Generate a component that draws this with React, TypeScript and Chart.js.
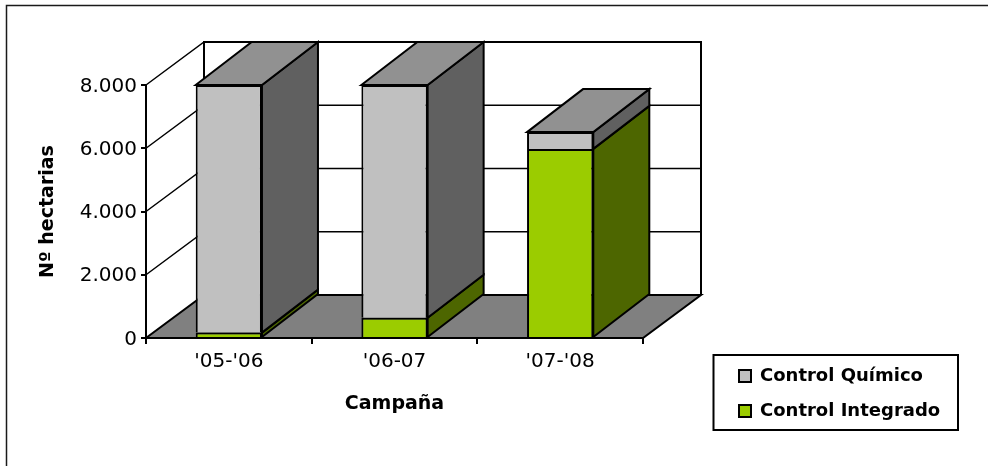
import React, { useEffect, useRef } from "react";
import { Chart, registerables } from "chart.js";

Chart.register(...registerables);

const campaigns = ["'05-'06", "'06-07", "'07-'08"];
const controlIntegrado = [170, 640, 5980];
const controlQuimico = [7830, 7360, 530];
const yTickLabels: Record<number, string> = { 0: "0", 2000: "2.000", 4000: "4.000", 6000: "6.000", 8000: "8.000" };
const yTickValues = [0, 2000, 4000, 6000, 8000];

const INK = "#000000";
const FONT = "'DejaVu Sans', sans-serif";
const WALL_DX = 58;
const BAR_DX = 56;
const DEPTH_DY = 43;
const OUTLINE = 2;

const faces = [
  { side: "#4d6600", top: "#7a9f00" },
  { side: "#606060", top: "#919191" },
];

function poly(ctx: CanvasRenderingContext2D, pts: number[][], fill: string | null, lw = OUTLINE) {
  ctx.beginPath();
  pts.forEach(([x, y], i) => (i ? ctx.lineTo(x, y) : ctx.moveTo(x, y)));
  ctx.closePath();
  if (fill) {
    ctx.fillStyle = fill;
    ctx.fill();
  }
  ctx.lineWidth = lw;
  ctx.strokeStyle = INK;
  ctx.lineJoin = "miter";
  ctx.stroke();
}

const scene3d = {
  id: "scene3d",
  afterLayout(chart: any) {
    const legend = chart.legend;
    legend.left = 722;
    legend.top = 350;
    legend.right = 952;
    legend.bottom = 440;
    legend.width = 230;
    legend.height = 90;
  },
  beforeDraw(chart: any) {
    const { ctx, width, height, chartArea: a, scales } = chart;
    const y = scales.y;
    ctx.save();
    ctx.fillStyle = "#ffffff";
    ctx.fillRect(0, 0, width, height);
    // outer frame: runs past the right and bottom edges of the picture
    ctx.strokeStyle = "#1a1a1a";
    ctx.lineWidth = 1.5;
    ctx.strokeRect(6.5, 5.5, width + 20, height + 20);
    // legend frame
    ctx.strokeStyle = INK;
    ctx.lineWidth = OUTLINE;
    ctx.strokeRect(713.5, 355, 244.5, 75);

    const l = a.left;
    const r = a.right;
    const y0 = y.getPixelForValue(0);
    const yMax = y.getPixelForValue(8000);
    // floor
    poly(ctx, [[l, y0], [r, y0], [r + WALL_DX, y0 - DEPTH_DY], [l + WALL_DX, y0 - DEPTH_DY]], "#808080");
    // grid on the two walls
    ctx.lineWidth = 1.5;
    ctx.strokeStyle = INK;
    yTickValues.slice(1).forEach((v) => {
      const py = y.getPixelForValue(v);
      ctx.beginPath();
      ctx.moveTo(l, py);
      ctx.lineTo(l + WALL_DX, py - DEPTH_DY);
      ctx.lineTo(r + WALL_DX, py - DEPTH_DY);
      ctx.stroke();
    });
    // wall edges
    ctx.lineWidth = OUTLINE;
    ctx.beginPath();
    ctx.moveTo(l + WALL_DX, y0 - DEPTH_DY);
    ctx.lineTo(l + WALL_DX, yMax - DEPTH_DY);
    ctx.lineTo(r + WALL_DX, yMax - DEPTH_DY);
    ctx.lineTo(r + WALL_DX, y0 - DEPTH_DY);
    ctx.stroke();
    ctx.restore();
  },
  afterDatasetsDraw(chart: any) {
    const { ctx } = chart;
    ctx.save();
    const stacks = chart.data.datasets.length;
    campaigns.forEach((_, j) => {
      for (let d = 0; d < stacks; d++) {
        const bar = chart.getDatasetMeta(d).data[j];
        const right = bar.x + bar.width / 2;
        const left = bar.x - bar.width / 2;
        poly(
          ctx,
          [[right, bar.y], [right + BAR_DX, bar.y - DEPTH_DY], [right + BAR_DX, bar.base - DEPTH_DY], [right, bar.base]],
          faces[d].side
        );
        if (d === stacks - 1) {
          poly(
            ctx,
            [[left, bar.y], [left + BAR_DX, bar.y - DEPTH_DY], [right + BAR_DX, bar.y - DEPTH_DY], [right, bar.y]],
            faces[d].top
          );
        }
      }
    });
    ctx.restore();
  },
};

export default function App() {
  const ref = useRef<HTMLCanvasElement>(null);

  useEffect(() => {
    const chart = new Chart(ref.current!, {
      type: "bar",
      data: {
        labels: campaigns,
        datasets: [
          {
            label: "Control Integrado",
            data: controlIntegrado,
            backgroundColor: "#9bcc00",
            borderColor: INK,
            borderWidth: 2,
            borderSkipped: "bottom",
          },
          {
            label: "Control Químico",
            data: controlQuimico,
            backgroundColor: "#c0c0c0",
            borderColor: INK,
            borderWidth: 2,
            borderSkipped: "bottom",
          },
        ],
      },
      options: {
        responsive: false,
        animation: false,
        devicePixelRatio: 1,
        layout: { padding: { left: 0, top: 85, right: 345, bottom: 0 } },
        datasets: { bar: { barPercentage: 0.4, categoryPercentage: 1 } },
        plugins: {
          tooltip: { enabled: false },
          title: { display: false },
          legend: {
            position: "chartArea",
            align: "start",
            reverse: true,
            labels: {
              boxWidth: 12,
              boxHeight: 12,
              padding: 17,
              color: INK,
              font: { family: FONT, size: 18, weight: "bold" },
            },
          },
        },
        scales: {
          x: {
            stacked: true,
            afterFit: (s: any) => {
              s.height = 128;
            },
            grid: { drawOnChartArea: false, drawTicks: true, tickLength: 6, color: INK, lineWidth: 2 },
            border: { display: true, color: INK, width: 2, z: 1 },
            ticks: { color: INK, padding: 6, autoSkip: false, maxRotation: 0, font: { family: FONT, size: 20 } },
            title: {
              display: true,
              text: "Campaña",
              color: INK,
              font: { family: FONT, size: 19, weight: "bold" },
              padding: { top: 0, bottom: 50.6 },
            },
          },
          y: {
            stacked: true,
            min: 0,
            max: 8000,
            afterFit: (s: any) => {
              s.width = 146;
            },
            grid: { drawOnChartArea: false, drawTicks: true, tickLength: 5, color: INK, lineWidth: 2 },
            border: { display: true, color: INK, width: 2 },
            ticks: {
              stepSize: 2000,
              padding: 4,
              color: INK,
              labelOffset: 1.5,
              font: { family: FONT, size: 20 },
              callback: (v: any) => yTickLabels[Number(v)] ?? "",
            },
            title: {
              display: true,
              text: "Nº hectarias",
              color: INK,
              font: { family: FONT, size: 19, weight: "bold" },
              padding: { top: 36.6, bottom: 0 },
            },
          },
        },
      } as any,
      plugins: [scene3d],
    });
    return () => chart.destroy();
  }, []);

  return (
    <div style={{ position: "absolute", left: 0, top: 0, width: 988, height: 466, background: "#fff" }}>
      <canvas ref={ref} width={988} height={466} style={{ display: "block" }} />
    </div>
  );
}
